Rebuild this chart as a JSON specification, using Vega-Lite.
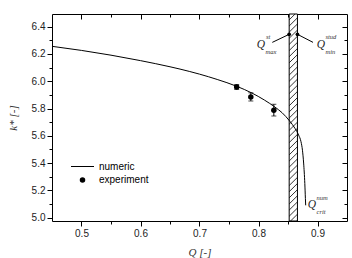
{
  "$schema": "https://vega.github.io/schema/vega-lite/v6.json",
  "autosize": "none",
  "padding": {"left": 52, "top": 14, "right": 5, "bottom": 37},
  "width": 295,
  "height": 207,
  "background": "white",
  "config": {
    "view": {"stroke": "black", "strokeWidth": 1},
    "axis": {
      "domain": false,
      "grid": false,
      "tickColor": "black",
      "labelFont": "Liberation Sans",
      "labelFontSize": 10,
      "labelColor": "#222222",
      "titleColor": "#333333",
      "titleFont": "Liberation Serif",
      "titleFontStyle": "italic",
      "titleFontWeight": "normal",
      "titleFontSize": 11
    }
  },
  "datasets": {
    "numeric": [
      {"q": 0.45, "k": 6.256},
      {"q": 0.5, "k": 6.226},
      {"q": 0.55, "k": 6.191},
      {"q": 0.6, "k": 6.151},
      {"q": 0.65, "k": 6.106},
      {"q": 0.667, "k": 6.089},
      {"q": 0.7, "k": 6.052},
      {"q": 0.73, "k": 6.013},
      {"q": 0.763, "k": 5.963},
      {"q": 0.789, "k": 5.913},
      {"q": 0.81, "k": 5.862},
      {"q": 0.828, "k": 5.81},
      {"q": 0.84, "k": 5.769},
      {"q": 0.853, "k": 5.707},
      {"q": 0.862, "k": 5.653},
      {"q": 0.868, "k": 5.605},
      {"q": 0.872, "k": 5.557},
      {"q": 0.8745, "k": 5.494},
      {"q": 0.8765, "k": 5.4},
      {"q": 0.8785, "k": 5.25},
      {"q": 0.8795, "k": 5.14},
      {"q": 0.88, "k": 5.09}
    ],
    "experiment": [
      {"q": 0.763, "k": 5.958, "lo": 5.94, "hi": 5.976, "series": "experiment"},
      {"q": 0.787, "k": 5.885, "lo": 5.855, "hi": 5.915, "series": "experiment"},
      {"q": 0.826, "k": 5.788, "lo": 5.745, "hi": 5.831, "series": "experiment"}
    ],
    "band": [{"q0": 0.852, "q1": 0.866}],
    "hatch": [
      {"k0": 4.92, "k1": 4.98}, {"k0": 4.965, "k1": 5.025}, {"k0": 5.01, "k1": 5.07},
      {"k0": 5.055, "k1": 5.115}, {"k0": 5.1, "k1": 5.16}, {"k0": 5.145, "k1": 5.205},
      {"k0": 5.19, "k1": 5.25}, {"k0": 5.235, "k1": 5.295}, {"k0": 5.28, "k1": 5.34},
      {"k0": 5.325, "k1": 5.385}, {"k0": 5.37, "k1": 5.43}, {"k0": 5.415, "k1": 5.475},
      {"k0": 5.46, "k1": 5.52}, {"k0": 5.505, "k1": 5.565}, {"k0": 5.55, "k1": 5.61},
      {"k0": 5.595, "k1": 5.655}, {"k0": 5.64, "k1": 5.7}, {"k0": 5.685, "k1": 5.745},
      {"k0": 5.73, "k1": 5.79}, {"k0": 5.775, "k1": 5.835}, {"k0": 5.82, "k1": 5.88},
      {"k0": 5.865, "k1": 5.925}, {"k0": 5.91, "k1": 5.97}, {"k0": 5.955, "k1": 6.015},
      {"k0": 6.0, "k1": 6.06}, {"k0": 6.045, "k1": 6.105}, {"k0": 6.09, "k1": 6.15},
      {"k0": 6.135, "k1": 6.195}, {"k0": 6.18, "k1": 6.24}, {"k0": 6.225, "k1": 6.285},
      {"k0": 6.27, "k1": 6.33}, {"k0": 6.315, "k1": 6.375}, {"k0": 6.36, "k1": 6.42},
      {"k0": 6.405, "k1": 6.465}, {"k0": 6.45, "k1": 6.51}
    ],
    "limits": [
      {"q": 0.852, "k": 6.344, "q2": 0.8234, "k2": 6.285},
      {"q": 0.866, "k": 6.344, "q2": 0.8924, "k2": 6.285}
    ],
    "symbols": [
      {"q": 0.8042, "k": 6.265, "t": "Q"},
      {"q": 0.9059, "k": 6.265, "t": "Q"},
      {"q": 0.8907, "k": 5.09, "t": "Q"}
    ],
    "scripts": [
      {"q": 0.8127, "k": 6.326, "t": "st"},
      {"q": 0.8119, "k": 6.212, "t": "max"},
      {"q": 0.9136, "k": 6.322, "t": "stud"},
      {"q": 0.9136, "k": 6.212, "t": "min"},
      {"q": 0.8983, "k": 5.143, "t": "num"},
      {"q": 0.8983, "k": 5.04, "t": "crit"}
    ]
  },
  "resolve": {"axis": {"x": "independent", "y": "independent"}},
  "layer": [
    {
      "data": {"name": "band"},
      "mark": {"type": "rect", "fill": "white", "stroke": "black", "strokeWidth": 1},
      "encoding": {
        "x": {"field": "q0", "type": "quantitative", "scale": {"domain": [0.45, 0.95], "nice": false, "zero": false}, "axis": null},
        "x2": {"field": "q1"}
      }
    },
    {
      "data": {"name": "hatch"},
      "mark": {"type": "rule", "stroke": "black", "strokeWidth": 0.8, "clip": true},
      "encoding": {
        "x": {"datum": 0.852, "type": "quantitative", "axis": {"orient": "bottom", "values": [0.55, 0.65, 0.75, 0.85], "tickSize": 3, "labels": false, "title": null}},
        "x2": {"datum": 0.866},
        "y": {"field": "k0", "type": "quantitative", "axis": {"orient": "left", "values": [5.1, 5.3, 5.5, 5.7, 5.9, 6.1, 6.3], "tickSize": 3, "labels": false, "title": null}},
        "y2": {"field": "k1"}
      }
    },
    {
      "data": {"name": "numeric"},
      "mark": {"type": "line", "stroke": "black", "strokeWidth": 1, "interpolate": "monotone"},
      "encoding": {
        "x": {"field": "q", "type": "quantitative",
              "axis": {"orient": "bottom", "values": [0.5, 0.6, 0.7, 0.8, 0.9], "format": ".1f", "tickSize": 5, "labelPadding": 2, "title": "Q [-]", "titlePadding": 8}},
        "y": {"field": "k", "type": "quantitative", "scale": {"domain": [4.975, 6.493], "nice": false, "zero": false},
              "axis": {"orient": "left", "values": [5.0, 5.2, 5.4, 5.6, 5.8, 6.0, 6.2, 6.4], "format": ".1f", "tickSize": 5, "labelPadding": 2, "title": "k* [-]", "titlePadding": 13}}
      }
    },
    {
      "data": {"name": "experiment"},
      "mark": {"type": "errorbar", "color": "black", "ticks": {"size": 5, "color": "black"}, "rule": {"strokeWidth": 1}},
      "encoding": {
        "x": {"field": "q", "type": "quantitative", "axis": null},
        "y": {"field": "lo", "type": "quantitative", "axis": null},
        "y2": {"field": "hi"}
      }
    },
    {
      "data": {"name": "experiment"},
      "mark": {"type": "point", "filled": true, "color": "black", "opacity": 1},
      "encoding": {
        "x": {"field": "q", "type": "quantitative", "axis": null},
        "y": {"field": "k", "type": "quantitative", "axis": null},
        "shape": {
          "field": "series", "type": "nominal",
          "scale": {"domain": ["numeric", "experiment"], "range": ["M-1,-0.045H1V0.045H-1Z", "circle"]},
          "legend": {"orient": "none", "legendX": 19, "legendY": 141, "title": null, "padding": 0, "rowPadding": 3, "labelOffset": 5,
                     "labelFont": "Liberation Sans", "labelFontSize": 10, "labelColor": "black",
                     "symbolFillColor": "black", "symbolStrokeColor": "black", "symbolStrokeWidth": 0, "symbolOpacity": 1}
        },
        "size": {
          "field": "series", "type": "nominal",
          "scale": {"domain": ["numeric", "experiment"], "range": [529, 30]},
          "legend": {"orient": "none", "legendX": 19, "legendY": 141, "title": null, "padding": 0, "rowPadding": 3, "labelOffset": 5,
                     "labelFont": "Liberation Sans", "labelFontSize": 10, "labelColor": "black",
                     "symbolFillColor": "black", "symbolStrokeColor": "black", "symbolStrokeWidth": 0, "symbolOpacity": 1}
        }
      }
    },
    {
      "data": {"name": "limits"},
      "mark": {"type": "rule", "stroke": "black", "strokeWidth": 1},
      "encoding": {
        "x": {"field": "q", "type": "quantitative", "axis": {"orient": "top", "values": [0.5, 0.6, 0.7, 0.8, 0.9], "tickSize": -5, "labels": false, "title": null}},
        "x2": {"field": "q2"},
        "y": {"field": "k", "type": "quantitative", "axis": {"orient": "right", "values": [5.0, 5.2, 5.4, 5.6, 5.8, 6.0, 6.2, 6.4], "tickSize": -5, "labels": false, "title": null}},
        "y2": {"field": "k2"}
      }
    },
    {
      "data": {"name": "limits"},
      "mark": {"type": "circle", "color": "black", "size": 14, "opacity": 1},
      "encoding": {
        "x": {"field": "q", "type": "quantitative", "axis": {"orient": "top", "values": [0.55, 0.65, 0.75, 0.85], "tickSize": -3, "labels": false, "title": null}},
        "y": {"field": "k", "type": "quantitative", "axis": {"orient": "right", "values": [5.1, 5.3, 5.5, 5.7, 5.9, 6.1, 6.3], "tickSize": -3, "labels": false, "title": null}}
      }
    },
    {
      "data": {"name": "symbols"},
      "mark": {"type": "text", "font": "Liberation Serif", "fontStyle": "italic", "fontSize": 11.5, "color": "#222222", "align": "center", "baseline": "middle"},
      "encoding": {
        "x": {"field": "q", "type": "quantitative", "axis": null},
        "y": {"field": "k", "type": "quantitative", "axis": null},
        "text": {"field": "t"}
      }
    },
    {
      "data": {"name": "scripts"},
      "mark": {"type": "text", "font": "Liberation Serif", "fontStyle": "italic", "fontSize": 6.5, "color": "#333333", "align": "left", "baseline": "middle"},
      "encoding": {
        "x": {"field": "q", "type": "quantitative", "axis": null},
        "y": {"field": "k", "type": "quantitative", "axis": null},
        "text": {"field": "t"}
      }
    }
  ]
}
